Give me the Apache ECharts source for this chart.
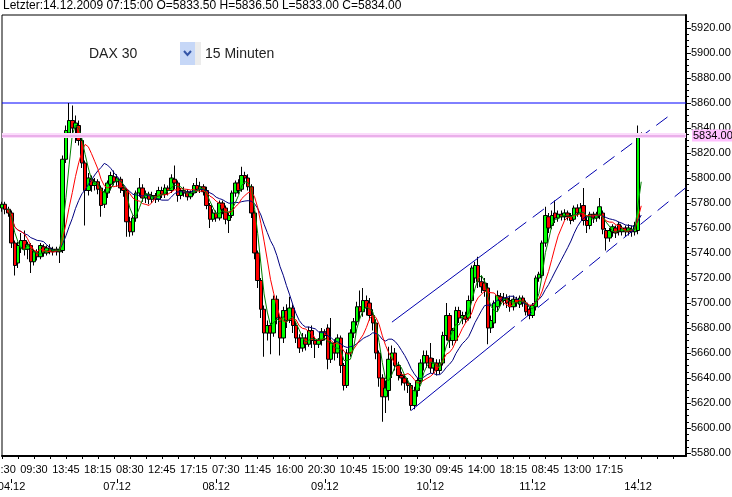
<!DOCTYPE html>
<html><head><meta charset="utf-8">
<script src="https://cdn.jsdelivr.net/npm/echarts@6/dist/echarts.min.js"></script>
<style>html,body{margin:0;padding:0;background:#fff}#c{width:732px;height:497px}</style>
</head><body><div id="c"></div>
<script>
// ---- data ----
const instrument = 'DAX 30';
const period = '15 Minuten';
const lastTime = '14.12.2009 07:15:00';
const timeLabels = ['20:30','09:30','13:45','18:15','08:30','12:45','17:15','07:30','11:45','16:00','20:30','10:45','15:00','19:30','09:45','14:00','18:15','08:45','13:00','17:15'];
const dateLabels = ['04.12','07.12','08.12','09.12','10.12','11.12','14.12'];
const dateIdx = [3, 36, 67, 101, 134, 166, 199];
const totalSlots = 215;
const yTicks = [5580,5600,5620,5640,5660,5680,5700,5720,5740,5760,5780,5800,5820,5840,5860,5880,5900,5920];
const resistance = 5860;
const lastPrice = 5834;
// channel lines [index, value]
const upperSolid = [[122, 5684.7], [155, 5747.5]];
const upperDashed = [[155, 5747.5], [210, 5852.2]];
const lowerSolid = [[128, 5614.0], [157, 5674.2]];
const lowerDashed = [[157, 5674.2], [214, 5792.4]];
// moving average periods
const maFast = 4, maMid = 8, maSlow = 14;
// candles [open, close, low, high]
const ohlc = [
[5776,5779,5773,5781],[5779,5775,5771,5781],[5775,5772,5769,5777],[5772,5748,5744,5774],[5748,5730,5722,5750],
[5732,5746,5728,5749],[5744,5750,5740,5756],[5750,5743,5738,5758],[5743,5747,5735,5749],[5746,5733,5724,5748],
[5733,5741,5730,5743],[5741,5737,5734,5743],[5737,5746,5735,5748],[5745,5740,5737,5747],[5740,5744,5738,5746],
[5744,5741,5739,5747],[5741,5743,5738,5745],[5743,5741,5738,5745],[5741,5743,5732,5745],[5742,5815,5740,5818],
[5815,5838,5812,5842],[5836,5846,5832,5860],[5846,5840,5834,5858],[5840,5844,5828,5850],[5842,5830,5826,5846],
[5830,5812,5808,5833],[5812,5790,5762,5814],[5790,5800,5786,5804],[5799,5794,5789,5802],[5794,5797,5790,5800],
[5797,5791,5787,5799],[5792,5778,5769,5794],[5779,5789,5776,5791],[5788,5796,5784,5798],[5795,5802,5790,5805],
[5801,5797,5794,5806],[5797,5800,5793,5803],[5799,5792,5788,5801],[5792,5790,5785,5795],[5790,5765,5753,5792],
[5765,5757,5753,5769],[5757,5768,5754,5770],[5768,5788,5765,5790],[5788,5792,5785,5800],[5792,5784,5781,5795],
[5784,5787,5780,5790],[5787,5783,5779,5789],[5783,5786,5780,5789],[5786,5783,5780,5788],[5783,5790,5781,5793],
[5790,5787,5784,5793],[5787,5792,5784,5795],[5792,5790,5786,5794],[5790,5800,5788,5803],[5799,5796,5791,5810],
[5796,5786,5781,5798],[5786,5790,5783,5792],[5790,5788,5785,5793],[5789,5785,5782,5791],[5785,5788,5783,5790],
[5788,5794,5786,5796],[5794,5791,5788,5800],[5791,5793,5788,5797],[5793,5789,5786,5795],[5790,5778,5775,5793],
[5778,5767,5760,5780],[5767,5772,5765,5775],[5772,5768,5765,5774],[5768,5780,5766,5782],[5780,5775,5771,5782],
[5776,5767,5763,5778],[5766,5770,5756,5772],[5770,5788,5768,5790],[5788,5796,5785,5798],[5796,5790,5787,5799],
[5791,5802,5789,5809],[5802,5800,5795,5805],[5800,5793,5790,5803],[5793,5772,5768,5795],[5772,5740,5735,5774],
[5740,5718,5712,5742],[5718,5695,5688,5720],[5695,5676,5657,5698],[5676,5682,5670,5686],[5682,5676,5659,5684],
[5676,5703,5673,5706],[5703,5688,5683,5706],[5688,5672,5658,5690],[5672,5694,5668,5697],[5694,5686,5680,5699],
[5686,5696,5684,5705],[5696,5682,5676,5699],[5682,5672,5668,5685],[5672,5664,5660,5675],[5664,5672,5661,5676],
[5672,5667,5662,5675],[5667,5678,5665,5681],[5678,5670,5664,5682],[5670,5667,5656,5673],[5667,5670,5664,5672],
[5670,5677,5666,5680],[5677,5674,5670,5679],[5680,5655,5647,5683],[5655,5668,5652,5688],[5668,5660,5654,5671],
[5660,5672,5656,5675],[5672,5650,5644,5674],[5650,5634,5630,5652],[5634,5660,5632,5663],[5660,5676,5657,5679],
[5676,5685,5672,5688],[5685,5697,5682,5701],[5697,5693,5687,5710],[5693,5702,5689,5712],[5702,5696,5690,5706],
[5700,5690,5686,5704],[5690,5684,5678,5695],[5684,5660,5655,5687],[5660,5640,5633,5662],[5640,5625,5605,5643],
[5625,5632,5612,5638],[5630,5655,5622,5665],[5655,5660,5640,5666],[5660,5650,5646,5664],[5650,5642,5638,5653],
[5642,5640,5634,5645],[5640,5636,5630,5643],[5636,5634,5628,5640],[5634,5618,5614,5636],[5618,5630,5615,5633],
[5630,5638,5625,5640],[5638,5652,5635,5655],[5652,5658,5646,5662],[5658,5652,5648,5662],[5656,5648,5644,5668],
[5648,5652,5644,5656],[5652,5646,5642,5655],[5646,5652,5643,5655],[5652,5674,5650,5677],[5674,5690,5670,5700],
[5690,5670,5664,5692],[5670,5678,5666,5680],[5670,5694,5668,5697],[5694,5688,5684,5697],[5688,5690,5683,5693],
[5690,5687,5684,5693],[5688,5702,5686,5706],[5702,5728,5700,5730],[5720,5730,5716,5733],[5730,5717,5712,5737],
[5717,5713,5708,5722],[5716,5710,5705,5720],[5712,5680,5667,5716],[5680,5686,5676,5690],[5684,5700,5680,5702],
[5697,5706,5693,5710],[5705,5702,5698,5708],[5702,5704,5698,5708],[5704,5700,5696,5707],[5702,5697,5693,5706],
[5697,5703,5694,5706],[5703,5700,5697,5705],[5699,5704,5696,5706],[5704,5700,5697,5706],[5700,5693,5690,5702],
[5695,5690,5687,5697],[5690,5698,5688,5700],[5697,5720,5694,5722],[5720,5723,5717,5725],[5722,5748,5720,5750],
[5748,5770,5745,5777],[5769,5760,5756,5772],[5762,5770,5759,5774],[5772,5768,5764,5782],[5768,5771,5765,5774],
[5771,5769,5766,5774],[5769,5772,5766,5775],[5772,5769,5766,5774],[5770,5766,5763,5772],[5767,5776,5765,5778],
[5776,5772,5769,5779],[5772,5776,5769,5780],[5778,5766,5762,5792],[5766,5762,5756,5769],[5762,5771,5759,5773],
[5771,5768,5764,5773],[5768,5771,5765,5773],[5770,5777,5767,5784],[5772,5759,5755,5774],[5758,5752,5742,5760],
[5752,5758,5749,5760],[5757,5761,5753,5763],[5760,5756,5752,5762],[5763,5757,5754,5765],[5757,5760,5754,5762],
[5760,5757,5753,5762],[5757,5760,5754,5763],[5759,5757,5753,5762],[5757,5762,5754,5765],[5758,5835,5755,5842],
[5833.5,5834,5833,5836.5]
];

// ---- build ----
const cats = Array.from({length: totalSlots}, (_, i) => String(i));
function sma(p) {
  return ohlc.map((d, i) => {
    if (i < 2) return '-';
    const s = Math.max(0, i - p + 1);
    let sum = 0;
    for (let k = s; k <= i; k++) sum += ohlc[k][1];
    return +(sum / (i - s + 1)).toFixed(2);
  });
}
const minorTicks = [];
for (let v = yTicks[0]; v <= yTicks[yTicks.length - 1] + 5; v += 5) minorTicks.push(v);
const last = ohlc[ohlc.length - 1];
const infoText = 'Letzter:' + lastTime + ' O=' + last[0].toFixed(2) + ' H=' + last[3].toFixed(2) +
  ' L=' + last[2].toFixed(2) + ' C=' + last[1].toFixed(2);
const resistanceLine = [[0, resistance], [totalSlots - 1, resistance]];

const FONT = 'Liberation Sans, Arial, sans-serif';
const chart = echarts.init(document.getElementById('c'), null, {renderer: 'canvas'});
const yMin = 5577.6, yMax = 5930.4;
const chLine = {color: '#0000b0', width: 1};
chart.setOption({
  animation: false,
  backgroundColor: '#fff',
  grid: {left: 2, right: 46, top: 15, bottom: 41, show: true, borderColor: '#000', borderWidth: 1,
    containLabel: false, outerBoundsMode: 'none'},
  xAxis: [{
    type: 'category', data: cats, boundaryGap: false,
    axisLine: {lineStyle: {color: '#000', width: 2}},
    axisTick: {interval: 4, length: 3, lineStyle: {color: '#000'}},
    axisLabel: {interval: 9, margin: 8, color: '#000', fontSize: 11, fontFamily: FONT,
      formatter: v => timeLabels[(+v) / 10] || ''},
    splitLine: {show: false}
  }, {
    type: 'category', data: cats, boundaryGap: false, position: 'bottom', offset: 23,
    axisLine: {show: false},
    axisTick: {show: true, interval: i => dateIdx.includes(i), length: 4, lineStyle: {color: '#000'}},
    axisLabel: {interval: i => dateIdx.includes(i), margin: 2, color: '#000', fontSize: 11, fontFamily: FONT,
      formatter: v => { const k = dateIdx.indexOf(+v); return k >= 0 ? dateLabels[k] : ''; }},
    splitLine: {show: false}
  }],
  yAxis: [{
    type: 'value', position: 'right', min: yMin, max: yMax, scale: true,
    axisLine: {show: true, lineStyle: {color: '#000', width: 2}},
    axisTick: {show: true, customValues: yTicks, length: 5, lineStyle: {color: '#000'}},
    axisLabel: {customValues: yTicks, margin: 5, color: '#000', fontSize: 11, fontFamily: FONT,
      formatter: v => v.toFixed(2)},
    splitLine: {show: false}
  }, {
    type: 'value', position: 'right', min: yMin, max: yMax, scale: true,
    axisLine: {show: false},
    axisTick: {show: true, customValues: minorTicks, length: 3, lineStyle: {color: '#000'}},
    axisLabel: {show: false},
    splitLine: {show: false}
  }],
  series: [{
    type: 'candlestick', data: ohlc.map(d => d.slice()), barWidth: 4,
    itemStyle: {color: '#00ff00', color0: '#ff0000', borderColor: '#000', borderColor0: '#000', borderWidth: 1},
    markLine: {
      silent: true, symbol: 'none', animation: false,
      data: [
        {yAxis: lastPrice, lineStyle: {color: '#fbdcfb', width: 5, type: 'solid'}, label: {show: false}},
        {yAxis: lastPrice, lineStyle: {color: '#e4a2e4', width: 1.5, type: 'solid'},
          label: {show: true, position: 'end', distance: 6, formatter: lastPrice.toFixed(2),
            backgroundColor: '#ffbfff', color: '#000', fontSize: 11, fontFamily: FONT, padding: [1, 1, 0, 1]}}
      ]
    },
    z: 2
  },
  {type: 'line', data: resistanceLine, symbol: 'none', silent: true,
    lineStyle: {color: '#0000ff', width: 1}, itemStyle: {color: '#0000ff'}, z: 1},
  {type: 'line', data: sma(maSlow), symbol: 'none', lineStyle: {color: '#000080', width: 1}, z: 3},
  {type: 'line', data: sma(maMid), symbol: 'none', lineStyle: {color: '#ff0000', width: 1}, z: 3},
  {type: 'line', data: sma(maFast), symbol: 'none', lineStyle: {color: '#008000', width: 1}, z: 3},
  {type: 'line', data: upperSolid, symbol: 'none', lineStyle: chLine, z: 4},
  {type: 'line', data: upperDashed, symbol: 'none', lineStyle: Object.assign({type: [14, 8]}, chLine), z: 4},
  {type: 'line', data: lowerSolid, symbol: 'none', lineStyle: chLine, z: 4},
  {type: 'line', data: lowerDashed, symbol: 'none', lineStyle: Object.assign({type: [14, 8]}, chLine), z: 4}
  ],
  graphic: [
    {type: 'text', left: 3, top: 0, style: {text: infoText, font: '12px ' + FONT, fill: '#000'}},
    {type: 'text', left: 89, top: 47, style: {text: instrument, font: '14px ' + FONT, fill: '#222'}},
    {type: 'rect', shape: {x: 180, y: 42, width: 15, height: 23}, style: {fill: '#c6d7f7'}},
    {type: 'rect', shape: {x: 195, y: 42, width: 6, height: 23}, style: {fill: '#ececec'}},
    {type: 'polyline', shape: {points: [[184, 51], [187.5, 55], [191, 51]]}, style: {stroke: '#3556a8', lineWidth: 2, fill: null}},
    {type: 'text', left: 205, top: 47, style: {text: period, font: '14px ' + FONT, fill: '#222'}}
  ]
});
</script></body></html>
